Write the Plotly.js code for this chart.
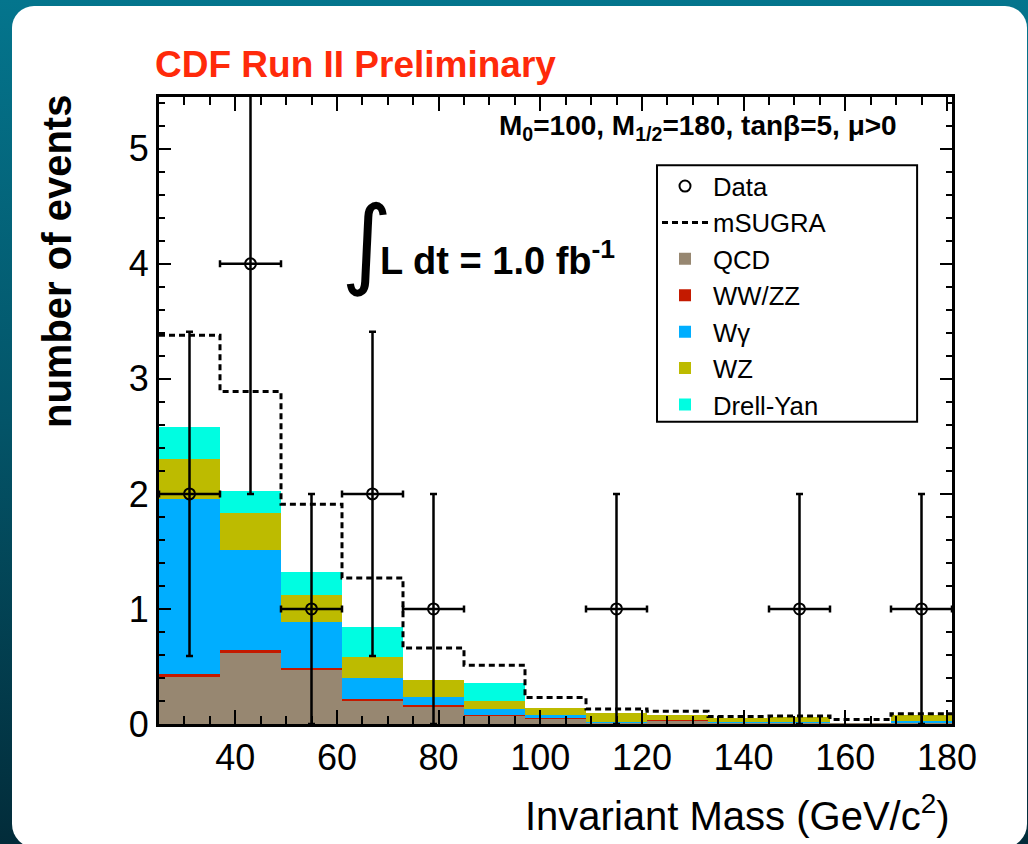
<!DOCTYPE html>
<html>
<head>
<meta charset="utf-8">
<script src="https://cdn.plot.ly/plotly-3.0.1.min.js"></script>
<style>
  html, body { margin:0; padding:0; width:1028px; height:844px; overflow:hidden; }
  body { background: linear-gradient(180deg, #04758d 0%, #035468 50%, #022c3a 100%); position:relative; }
  #card { position:absolute; left:12px; top:6px; width:1015px; height:842px; background:#fff; border-radius:22px 22px 24px 24px; }
  #chart { position:absolute; left:0; top:0; width:1028px; height:844px; }
</style>
</head>
<body>
<div id="card"></div>
<div id="chart"></div>
<script>
// ---- data ----
const binEdges = [25, 37, 49, 61, 73, 85, 97, 109, 121, 133, 145, 157, 169, 181];
const qcd    = [0.41, 0.62, 0.47, 0.20, 0.15, 0.07, 0.045, 0.01, 0.03, 0.01, 0.01, 0.005, 0.005];
const wwzz   = [0.025, 0.023, 0.02, 0.02, 0.015, 0.01, 0.008, 0.003, 0.002, 0.002, 0.002, 0.001, 0.002];
const wgamma = [1.52, 0.87, 0.40, 0.18, 0.07, 0.05, 0.025, 0.005, 0.005, 0.005, 0.005, 0.002, 0.02];
const wz     = [0.35, 0.32, 0.23, 0.18, 0.145, 0.07, 0.064, 0.075, 0.045, 0.035, 0.04, 0.003, 0.05];
const drellYan = [0.28, 0.19, 0.20, 0.26, 0, 0.16, 0, 0, 0, 0, 0, 0, 0];
const msugra = [3.38, 2.89, 1.91, 1.27, 0.66, 0.51, 0.23, 0.13, 0.11, 0.065, 0.07, 0.04, 0.09];
const dataCounts = [2, 4, 1, 2, 1, 0, 0, 1, 0, 0, 1, 0, 1];
const dataErr    = [1.41, 2, 1, 1.41, 1, 0, 0, 1, 0, 0, 1, 0, 1];
const xTickVals = [40, 60, 80, 100, 120, 140, 160, 180];
const yTickVals = [0, 1, 2, 3, 4, 5];

// ---- derived ----
const centers = [], widths = [];
for (let i = 0; i < binEdges.length - 1; i++) {
  centers.push((binEdges[i] + binEdges[i + 1]) / 2);
  widths.push(binEdges[i + 1] - binEdges[i]);
}
const dX = [], dY = [], dEy = [], dEx = [];
dataCounts.forEach((c, i) => {
  if (c > 0) { dX.push(centers[i]); dY.push(c); dEy.push(dataErr[i]); dEx.push(widths[i] / 2); }
});
const stepY = msugra.concat([msugra[msugra.length - 1]]);

const FONT = 'Liberation Sans, Arial, Helvetica, sans-serif';

function barTrace(name, vals, color) {
  return { type: 'bar', name: name, x: centers, y: vals, width: widths,
    marker: { color: color, line: { width: 0 } }, hoverinfo: 'x+y+name' };
}

const traces = [
  { type: 'scatter', mode: 'markers', name: 'Data', x: dX, y: dY,
    marker: { symbol: 'circle-open', size: 11, color: '#000', line: { width: 2, color: '#000' } },
    error_y: { type: 'data', array: dEy, visible: true, color: '#000', thickness: 2.5, width: 3.5 },
    error_x: { type: 'data', array: dEx, visible: true, color: '#000', thickness: 2.5, width: 3.5 } },
  { type: 'scatter', mode: 'lines', name: 'mSUGRA', x: binEdges, y: stepY,
    line: { shape: 'hv', dash: '6px,4px', width: 3, color: '#000' } },
  barTrace('QCD', qcd, '#978771'),
  barTrace('WW/ZZ', wwzz, '#c41a00'),
  barTrace('W\u03b3', wgamma, '#00aeff'),
  barTrace('WZ', wz, '#bdbb00'),
  barTrace('Drell-Yan', drellYan, '#00fde1')
];

// legend frame (paper coordinates)
const legendBox = { x0: 0.628, x1: 0.956, y0: 0.482, y1: 0.891 };

const layout = {
  width: 1028, height: 844,
  margin: { l: 159, r: 76, t: 97, b: 120, pad: 0 },
  paper_bgcolor: 'rgba(0,0,0,0)', plot_bgcolor: '#fff',
  barmode: 'stack', bargap: 0,
  font: { family: FONT, color: '#000' },
  showlegend: true,
  title: { text: '<b>CDF Run II Preliminary</b>', font: { size: 37, color: '#ff2a0a', family: FONT },
           x: 155 / 1028, xref: 'container', xanchor: 'left', y: 1 - 64 / 844, yref: 'container', yanchor: 'middle' },
  xaxis: {
    range: [binEdges[0], binEdges[binEdges.length - 1]],
    tickmode: 'array', tickvals: xTickVals, ticktext: xTickVals.map(String),
    ticks: 'inside', ticklen: 14, tickwidth: 2, tickcolor: '#000',
    minor: { dtick: 5, tick0: 0, ticks: 'inside', ticklen: 8, tickwidth: 2, tickcolor: '#000', showgrid: false },
    showline: true, linewidth: 3, linecolor: '#000', mirror: 'ticks',
    showgrid: false, zeroline: false, tickfont: { size: 36, family: FONT }
  },
  yaxis: {
    range: [0, 5.45],
    tickmode: 'array', tickvals: yTickVals, ticktext: yTickVals.map(String),
    ticks: 'inside', ticklen: 12, tickwidth: 2, tickcolor: '#000',
    minor: { dtick: 0.2, tick0: 0, ticks: 'inside', ticklen: 6, tickwidth: 2, tickcolor: '#000', showgrid: false },
    showline: true, linewidth: 3, linecolor: '#000', mirror: 'ticks',
    showgrid: false, zeroline: false, tickfont: { size: 36, family: FONT }
  },
  legend: {
    x: legendBox.x0, y: legendBox.y1 + 0.004, xanchor: 'left', yanchor: 'top',
    bgcolor: 'rgba(0,0,0,0)', borderwidth: 0,
    font: { size: 25.7, family: FONT }, traceorder: 'normal', itemwidth: 46, tracegroupgap: 0
  },
  shapes: [
    { type: 'rect', xref: 'paper', yref: 'paper', layer: 'above',
      x0: legendBox.x0, x1: legendBox.x1, y0: legendBox.y0, y1: legendBox.y1,
      fillcolor: '#fff', line: { color: '#000', width: 2 } }
  ],
  annotations: [
    { xref: 'paper', yref: 'paper', x: 0.6797, y: 0.9506, xanchor: 'center', yanchor: 'middle',
      text: '<b>M<sub>0</sub>=100, M<sub>1/2</sub>=180, tan\u03b2=5, \u03bc&gt;0</b>',
      showarrow: false, font: { size: 28, family: FONT } },
    { xref: 'paper', yref: 'paper', x: (366 - 159) / 793, y: 0.745, xanchor: 'center', yanchor: 'middle', yshift: 15,
      text: '\u222b', showarrow: false, font: { size: 98, family: 'DejaVu Sans ExtraLight, DejaVu Sans, sans-serif' } },
    { xref: 'paper', yref: 'paper', x: (378 - 159) / 793, y: 0.743, xanchor: 'left', yanchor: 'middle',
      text: '<b>L dt = 1.0 fb<sup>-1</sup></b>', showarrow: false, font: { size: 38, family: FONT } },
    { xref: 'paper', yref: 'paper', x: 1, y: 0, xanchor: 'right', yanchor: 'top', yshift: -62,
      text: 'Invariant Mass (GeV/c<sup>2</sup>)', showarrow: false, font: { size: 40, family: FONT } },
    { xref: 'paper', yref: 'paper', x: (57 - 159) / 793, y: (724 - 262) / 627, xanchor: 'center', yanchor: 'middle',
      textangle: -90, text: '<b>number of events</b>', showarrow: false, font: { size: 40, family: FONT } }
  ]
};

Plotly.newPlot('chart', traces, layout, { displayModeBar: false, staticPlot: true });
</script>
</body>
</html>
